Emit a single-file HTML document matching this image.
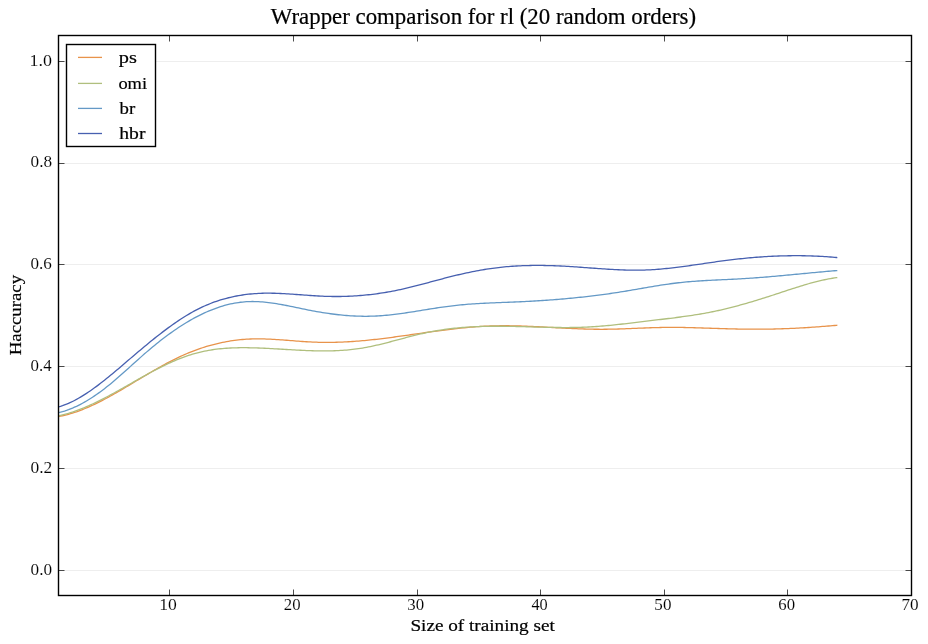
<!DOCTYPE html><html><head><meta charset="utf-8"><style>
html,body{margin:0;padding:0;background:#fff;width:928px;height:644px;overflow:hidden}
svg{display:block;will-change:transform}
text{font-family:"Liberation Serif",serif;fill:#000}
.k{stroke:#fff;stroke-width:0.1px}
.b{stroke:#000;stroke-width:0.2px}
</style></head><body>
<svg width="928" height="644" viewBox="0 0 928 644">
<rect x="0" y="0" width="928" height="644" fill="#fff"/>
<line x1="58.5" y1="570.5" x2="911.5" y2="570.5" stroke="#eeeeee" stroke-width="1"/>
<line x1="58.5" y1="468.5" x2="911.5" y2="468.5" stroke="#eeeeee" stroke-width="1"/>
<line x1="58.5" y1="366.5" x2="911.5" y2="366.5" stroke="#eeeeee" stroke-width="1"/>
<line x1="58.5" y1="264.5" x2="911.5" y2="264.5" stroke="#eeeeee" stroke-width="1"/>
<line x1="58.5" y1="163.5" x2="911.5" y2="163.5" stroke="#eeeeee" stroke-width="1"/>
<line x1="58.5" y1="61.5" x2="911.5" y2="61.5" stroke="#eeeeee" stroke-width="1"/>
<path d="M58.50,416.53 L60.50,416.16 L62.50,415.76 L64.50,415.31 L66.50,414.82 L68.50,414.29 L70.50,413.72 L72.50,413.11 L74.50,412.47 L76.50,411.80 L78.50,411.08 L80.50,410.34 L82.50,409.57 L84.50,408.76 L86.50,407.93 L88.50,407.06 L90.50,406.17 L92.50,405.25 L94.50,404.31 L96.50,403.35 L98.50,402.36 L100.50,401.35 L102.50,400.32 L104.50,399.27 L106.50,398.21 L108.50,397.12 L110.50,396.02 L112.50,394.91 L114.50,393.78 L116.50,392.64 L118.50,391.49 L120.50,390.33 L122.50,389.16 L124.50,387.98 L126.50,386.80 L128.50,385.61 L130.50,384.41 L132.50,383.21 L134.50,382.01 L136.50,380.81 L138.50,379.61 L140.50,378.41 L142.50,377.21 L144.50,376.02 L146.50,374.83 L148.50,373.65 L150.50,372.47 L152.50,371.30 L154.50,370.14 L156.50,368.99 L158.50,367.86 L160.50,366.73 L162.50,365.62 L164.50,364.52 L166.50,363.44 L168.50,362.38 L170.50,361.34 L172.50,360.31 L174.50,359.30 L176.50,358.32 L178.50,357.36 L180.50,356.42 L182.50,355.51 L184.50,354.62 L186.50,353.76 L188.50,352.92 L190.50,352.11 L192.50,351.32 L194.50,350.56 L196.50,349.82 L198.50,349.10 L200.50,348.41 L202.50,347.75 L204.50,347.11 L206.50,346.49 L208.50,345.90 L210.50,345.33 L212.50,344.78 L214.50,344.26 L216.50,343.77 L218.50,343.30 L220.50,342.85 L222.50,342.42 L224.50,342.02 L226.50,341.65 L228.50,341.30 L230.50,340.97 L232.50,340.67 L234.50,340.39 L236.50,340.13 L238.50,339.90 L240.50,339.69 L242.50,339.51 L244.50,339.34 L246.50,339.21 L248.50,339.09 L250.50,339.00 L252.50,338.94 L254.50,338.89 L256.50,338.87 L258.50,338.87 L260.50,338.88 L262.50,338.91 L264.50,338.96 L266.50,339.03 L268.50,339.10 L270.50,339.20 L272.50,339.30 L274.50,339.41 L276.50,339.54 L278.50,339.67 L280.50,339.81 L282.50,339.95 L284.50,340.10 L286.50,340.25 L288.50,340.41 L290.50,340.57 L292.50,340.72 L294.50,340.88 L296.50,341.04 L298.50,341.19 L300.50,341.33 L302.50,341.48 L304.50,341.61 L306.50,341.74 L308.50,341.86 L310.50,341.97 L312.50,342.06 L314.50,342.15 L316.50,342.22 L318.50,342.28 L320.50,342.33 L322.50,342.36 L324.50,342.38 L326.50,342.39 L328.50,342.39 L330.50,342.37 L332.50,342.35 L334.50,342.31 L336.50,342.26 L338.50,342.20 L340.50,342.13 L342.50,342.05 L344.50,341.96 L346.50,341.86 L348.50,341.75 L350.50,341.63 L352.50,341.50 L354.50,341.36 L356.50,341.21 L358.50,341.05 L360.50,340.89 L362.50,340.71 L364.50,340.53 L366.50,340.34 L368.50,340.14 L370.50,339.93 L372.50,339.72 L374.50,339.50 L376.50,339.28 L378.50,339.04 L380.50,338.81 L382.50,338.56 L384.50,338.31 L386.50,338.06 L388.50,337.80 L390.50,337.54 L392.50,337.28 L394.50,337.01 L396.50,336.73 L398.50,336.46 L400.50,336.18 L402.50,335.90 L404.50,335.62 L406.50,335.33 L408.50,335.05 L410.50,334.76 L412.50,334.47 L414.50,334.18 L416.50,333.90 L418.50,333.61 L420.50,333.32 L422.50,333.03 L424.50,332.75 L426.50,332.46 L428.50,332.18 L430.50,331.90 L432.50,331.62 L434.50,331.35 L436.50,331.07 L438.50,330.81 L440.50,330.54 L442.50,330.28 L444.50,330.02 L446.50,329.77 L448.50,329.52 L450.50,329.28 L452.50,329.04 L454.50,328.81 L456.50,328.58 L458.50,328.36 L460.50,328.15 L462.50,327.94 L464.50,327.74 L466.50,327.55 L468.50,327.37 L470.50,327.19 L472.50,327.03 L474.50,326.87 L476.50,326.72 L478.50,326.58 L480.50,326.46 L482.50,326.34 L484.50,326.23 L486.50,326.13 L488.50,326.05 L490.50,325.97 L492.50,325.91 L494.50,325.85 L496.50,325.81 L498.50,325.78 L500.50,325.76 L502.50,325.75 L504.50,325.75 L506.50,325.75 L508.50,325.77 L510.50,325.79 L512.50,325.82 L514.50,325.86 L516.50,325.91 L518.50,325.96 L520.50,326.02 L522.50,326.08 L524.50,326.15 L526.50,326.23 L528.50,326.31 L530.50,326.39 L532.50,326.48 L534.50,326.57 L536.50,326.67 L538.50,326.77 L540.50,326.87 L542.50,326.97 L544.50,327.08 L546.50,327.19 L548.50,327.29 L550.50,327.40 L552.50,327.51 L554.50,327.62 L556.50,327.73 L558.50,327.84 L560.50,327.94 L562.50,328.05 L564.50,328.15 L566.50,328.26 L568.50,328.35 L570.50,328.45 L572.50,328.54 L574.50,328.63 L576.50,328.72 L578.50,328.80 L580.50,328.87 L582.50,328.94 L584.50,329.01 L586.50,329.07 L588.50,329.12 L590.50,329.16 L592.50,329.20 L594.50,329.23 L596.50,329.26 L598.50,329.27 L600.50,329.28 L602.50,329.28 L604.50,329.27 L606.50,329.25 L608.50,329.22 L610.50,329.19 L612.50,329.14 L614.50,329.10 L616.50,329.04 L618.50,328.98 L620.50,328.92 L622.50,328.85 L624.50,328.78 L626.50,328.71 L628.50,328.63 L630.50,328.55 L632.50,328.47 L634.50,328.39 L636.50,328.30 L638.50,328.22 L640.50,328.14 L642.50,328.06 L644.50,327.98 L646.50,327.91 L648.50,327.83 L650.50,327.76 L652.50,327.70 L654.50,327.64 L656.50,327.58 L658.50,327.53 L660.50,327.48 L662.50,327.45 L664.50,327.41 L666.50,327.39 L668.50,327.38 L670.50,327.37 L672.50,327.37 L674.50,327.37 L676.50,327.39 L678.50,327.41 L680.50,327.43 L682.50,327.46 L684.50,327.50 L686.50,327.54 L688.50,327.58 L690.50,327.63 L692.50,327.68 L694.50,327.74 L696.50,327.80 L698.50,327.86 L700.50,327.92 L702.50,327.98 L704.50,328.05 L706.50,328.12 L708.50,328.19 L710.50,328.25 L712.50,328.32 L714.50,328.39 L716.50,328.46 L718.50,328.52 L720.50,328.59 L722.50,328.65 L724.50,328.71 L726.50,328.77 L728.50,328.82 L730.50,328.87 L732.50,328.92 L734.50,328.97 L736.50,329.01 L738.50,329.04 L740.50,329.08 L742.50,329.11 L744.50,329.13 L746.50,329.15 L748.50,329.17 L750.50,329.18 L752.50,329.19 L754.50,329.19 L756.50,329.19 L758.50,329.19 L760.50,329.18 L762.50,329.17 L764.50,329.15 L766.50,329.13 L768.50,329.10 L770.50,329.07 L772.50,329.03 L774.50,328.99 L776.50,328.94 L778.50,328.89 L780.50,328.83 L782.50,328.77 L784.50,328.70 L786.50,328.63 L788.50,328.55 L790.50,328.47 L792.50,328.38 L794.50,328.29 L796.50,328.19 L798.50,328.08 L800.50,327.97 L802.50,327.86 L804.50,327.74 L806.50,327.61 L808.50,327.48 L810.50,327.35 L812.50,327.21 L814.50,327.07 L816.50,326.93 L818.50,326.78 L820.50,326.63 L822.50,326.47 L824.50,326.32 L826.50,326.16 L828.50,326.00 L830.50,325.83 L832.50,325.67 L834.50,325.50 L836.50,325.33 L837.33,325.26" fill="none" stroke="#e8934b" stroke-width="1.30" stroke-linejoin="round"/>
<path d="M58.50,415.79 L60.50,415.37 L62.50,414.91 L64.50,414.41 L66.50,413.87 L68.50,413.30 L70.50,412.69 L72.50,412.05 L74.50,411.37 L76.50,410.67 L78.50,409.93 L80.50,409.16 L82.50,408.37 L84.50,407.54 L86.50,406.69 L88.50,405.82 L90.50,404.92 L92.50,404.00 L94.50,403.06 L96.50,402.09 L98.50,401.11 L100.50,400.11 L102.50,399.09 L104.50,398.06 L106.50,397.01 L108.50,395.95 L110.50,394.88 L112.50,393.79 L114.50,392.70 L116.50,391.59 L118.50,390.48 L120.50,389.36 L122.50,388.24 L124.50,387.11 L126.50,385.97 L128.50,384.84 L130.50,383.70 L132.50,382.57 L134.50,381.43 L136.50,380.30 L138.50,379.17 L140.50,378.05 L142.50,376.93 L144.50,375.82 L146.50,374.72 L148.50,373.63 L150.50,372.55 L152.50,371.47 L154.50,370.42 L156.50,369.37 L158.50,368.34 L160.50,367.33 L162.50,366.33 L164.50,365.36 L166.50,364.40 L168.50,363.46 L170.50,362.55 L172.50,361.65 L174.50,360.79 L176.50,359.94 L178.50,359.13 L180.50,358.34 L182.50,357.58 L184.50,356.85 L186.50,356.15 L188.50,355.47 L190.50,354.83 L192.50,354.21 L194.50,353.63 L196.50,353.08 L198.50,352.56 L200.50,352.06 L202.50,351.60 L204.50,351.17 L206.50,350.77 L208.50,350.40 L210.50,350.06 L212.50,349.74 L214.50,349.46 L216.50,349.19 L218.50,348.96 L220.50,348.74 L222.50,348.55 L224.50,348.38 L226.50,348.23 L228.50,348.11 L230.50,348.00 L232.50,347.91 L234.50,347.83 L236.50,347.78 L238.50,347.74 L240.50,347.71 L242.50,347.70 L244.50,347.70 L246.50,347.72 L248.50,347.74 L250.50,347.78 L252.50,347.82 L254.50,347.88 L256.50,347.94 L258.50,348.01 L260.50,348.09 L262.50,348.17 L264.50,348.26 L266.50,348.36 L268.50,348.46 L270.50,348.56 L272.50,348.67 L274.50,348.78 L276.50,348.90 L278.50,349.01 L280.50,349.13 L282.50,349.25 L284.50,349.37 L286.50,349.49 L288.50,349.61 L290.50,349.72 L292.50,349.84 L294.50,349.95 L296.50,350.06 L298.50,350.16 L300.50,350.26 L302.50,350.36 L304.50,350.45 L306.50,350.53 L308.50,350.61 L310.50,350.68 L312.50,350.74 L314.50,350.79 L316.50,350.84 L318.50,350.87 L320.50,350.90 L322.50,350.91 L324.50,350.91 L326.50,350.90 L328.50,350.88 L330.50,350.85 L332.50,350.80 L334.50,350.74 L336.50,350.66 L338.50,350.57 L340.50,350.46 L342.50,350.33 L344.50,350.19 L346.50,350.03 L348.50,349.85 L350.50,349.66 L352.50,349.44 L354.50,349.20 L356.50,348.95 L358.50,348.67 L360.50,348.37 L362.50,348.05 L364.50,347.70 L366.50,347.34 L368.50,346.95 L370.50,346.55 L372.50,346.13 L374.50,345.69 L376.50,345.23 L378.50,344.77 L380.50,344.29 L382.50,343.80 L384.50,343.30 L386.50,342.79 L388.50,342.27 L390.50,341.75 L392.50,341.22 L394.50,340.68 L396.50,340.15 L398.50,339.61 L400.50,339.08 L402.50,338.54 L404.50,338.01 L406.50,337.47 L408.50,336.95 L410.50,336.43 L412.50,335.92 L414.50,335.41 L416.50,334.92 L418.50,334.43 L420.50,333.96 L422.50,333.50 L424.50,333.06 L426.50,332.63 L428.50,332.22 L430.50,331.82 L432.50,331.45 L434.50,331.08 L436.50,330.74 L438.50,330.40 L440.50,330.09 L442.50,329.78 L444.50,329.50 L446.50,329.22 L448.50,328.96 L450.50,328.72 L452.50,328.48 L454.50,328.26 L456.50,328.06 L458.50,327.86 L460.50,327.68 L462.50,327.51 L464.50,327.36 L466.50,327.21 L468.50,327.08 L470.50,326.95 L472.50,326.84 L474.50,326.74 L476.50,326.64 L478.50,326.56 L480.50,326.49 L482.50,326.43 L484.50,326.37 L486.50,326.33 L488.50,326.29 L490.50,326.26 L492.50,326.24 L494.50,326.23 L496.50,326.23 L498.50,326.23 L500.50,326.24 L502.50,326.25 L504.50,326.27 L506.50,326.30 L508.50,326.33 L510.50,326.36 L512.50,326.40 L514.50,326.44 L516.50,326.49 L518.50,326.54 L520.50,326.59 L522.50,326.64 L524.50,326.69 L526.50,326.75 L528.50,326.81 L530.50,326.87 L532.50,326.92 L534.50,326.98 L536.50,327.04 L538.50,327.09 L540.50,327.15 L542.50,327.20 L544.50,327.25 L546.50,327.30 L548.50,327.34 L550.50,327.38 L552.50,327.42 L554.50,327.45 L556.50,327.48 L558.50,327.51 L560.50,327.52 L562.50,327.54 L564.50,327.54 L566.50,327.54 L568.50,327.53 L570.50,327.52 L572.50,327.49 L574.50,327.46 L576.50,327.42 L578.50,327.37 L580.50,327.32 L582.50,327.25 L584.50,327.17 L586.50,327.08 L588.50,326.98 L590.50,326.87 L592.50,326.75 L594.50,326.62 L596.50,326.48 L598.50,326.34 L600.50,326.18 L602.50,326.02 L604.50,325.84 L606.50,325.66 L608.50,325.48 L610.50,325.29 L612.50,325.09 L614.50,324.88 L616.50,324.67 L618.50,324.46 L620.50,324.24 L622.50,324.02 L624.50,323.79 L626.50,323.56 L628.50,323.33 L630.50,323.09 L632.50,322.85 L634.50,322.61 L636.50,322.37 L638.50,322.13 L640.50,321.88 L642.50,321.64 L644.50,321.40 L646.50,321.15 L648.50,320.91 L650.50,320.67 L652.50,320.43 L654.50,320.19 L656.50,319.96 L658.50,319.72 L660.50,319.48 L662.50,319.24 L664.50,319.00 L666.50,318.76 L668.50,318.52 L670.50,318.27 L672.50,318.02 L674.50,317.77 L676.50,317.51 L678.50,317.25 L680.50,316.99 L682.50,316.72 L684.50,316.44 L686.50,316.16 L688.50,315.87 L690.50,315.58 L692.50,315.28 L694.50,314.97 L696.50,314.65 L698.50,314.32 L700.50,313.99 L702.50,313.64 L704.50,313.29 L706.50,312.92 L708.50,312.54 L710.50,312.16 L712.50,311.76 L714.50,311.35 L716.50,310.92 L718.50,310.49 L720.50,310.04 L722.50,309.58 L724.50,309.11 L726.50,308.63 L728.50,308.14 L730.50,307.63 L732.50,307.12 L734.50,306.60 L736.50,306.07 L738.50,305.53 L740.50,304.98 L742.50,304.42 L744.50,303.86 L746.50,303.28 L748.50,302.70 L750.50,302.11 L752.50,301.52 L754.50,300.92 L756.50,300.31 L758.50,299.70 L760.50,299.08 L762.50,298.45 L764.50,297.82 L766.50,297.18 L768.50,296.54 L770.50,295.90 L772.50,295.25 L774.50,294.60 L776.50,293.95 L778.50,293.29 L780.50,292.63 L782.50,291.97 L784.50,291.30 L786.50,290.64 L788.50,289.98 L790.50,289.33 L792.50,288.68 L794.50,288.03 L796.50,287.39 L798.50,286.76 L800.50,286.13 L802.50,285.52 L804.50,284.92 L806.50,284.33 L808.50,283.75 L810.50,283.19 L812.50,282.64 L814.50,282.11 L816.50,281.60 L818.50,281.10 L820.50,280.63 L822.50,280.17 L824.50,279.74 L826.50,279.34 L828.50,278.95 L830.50,278.59 L832.50,278.26 L834.50,277.96 L836.50,277.69 L837.33,277.58" fill="none" stroke="#b0bf7e" stroke-width="1.30" stroke-linejoin="round"/>
<path d="M58.50,412.60 L60.50,412.13 L62.50,411.60 L64.50,411.01 L66.50,410.36 L68.50,409.66 L70.50,408.90 L72.50,408.09 L74.50,407.22 L76.50,406.31 L78.50,405.34 L80.50,404.32 L82.50,403.25 L84.50,402.14 L86.50,400.98 L88.50,399.77 L90.50,398.53 L92.50,397.23 L94.50,395.90 L96.50,394.53 L98.50,393.12 L100.50,391.67 L102.50,390.18 L104.50,388.66 L106.50,387.10 L108.50,385.51 L110.50,383.89 L112.50,382.23 L114.50,380.55 L116.50,378.84 L118.50,377.11 L120.50,375.35 L122.50,373.58 L124.50,371.80 L126.50,370.01 L128.50,368.20 L130.50,366.39 L132.50,364.59 L134.50,362.78 L136.50,360.97 L138.50,359.18 L140.50,357.39 L142.50,355.62 L144.50,353.86 L146.50,352.12 L148.50,350.41 L150.50,348.71 L152.50,347.04 L154.50,345.40 L156.50,343.77 L158.50,342.17 L160.50,340.60 L162.50,339.05 L164.50,337.52 L166.50,336.02 L168.50,334.55 L170.50,333.10 L172.50,331.68 L174.50,330.29 L176.50,328.92 L178.50,327.58 L180.50,326.27 L182.50,324.99 L184.50,323.74 L186.50,322.52 L188.50,321.33 L190.50,320.17 L192.50,319.04 L194.50,317.94 L196.50,316.87 L198.50,315.84 L200.50,314.84 L202.50,313.87 L204.50,312.93 L206.50,312.03 L208.50,311.16 L210.50,310.33 L212.50,309.53 L214.50,308.77 L216.50,308.04 L218.50,307.35 L220.50,306.69 L222.50,306.07 L224.50,305.49 L226.50,304.95 L228.50,304.45 L230.50,303.98 L232.50,303.56 L234.50,303.17 L236.50,302.82 L238.50,302.52 L240.50,302.25 L242.50,302.03 L244.50,301.84 L246.50,301.70 L248.50,301.60 L250.50,301.54 L252.50,301.52 L254.50,301.54 L256.50,301.59 L258.50,301.68 L260.50,301.79 L262.50,301.94 L264.50,302.12 L266.50,302.32 L268.50,302.55 L270.50,302.80 L272.50,303.08 L274.50,303.38 L276.50,303.69 L278.50,304.02 L280.50,304.37 L282.50,304.74 L284.50,305.11 L286.50,305.50 L288.50,305.89 L290.50,306.30 L292.50,306.71 L294.50,307.12 L296.50,307.54 L298.50,307.96 L300.50,308.38 L302.50,308.79 L304.50,309.21 L306.50,309.61 L308.50,310.02 L310.50,310.41 L312.50,310.79 L314.50,311.16 L316.50,311.52 L318.50,311.88 L320.50,312.22 L322.50,312.54 L324.50,312.86 L326.50,313.17 L328.50,313.46 L330.50,313.74 L332.50,314.01 L334.50,314.26 L336.50,314.50 L338.50,314.73 L340.50,314.94 L342.50,315.14 L344.50,315.32 L346.50,315.49 L348.50,315.65 L350.50,315.78 L352.50,315.90 L354.50,316.01 L356.50,316.10 L358.50,316.17 L360.50,316.22 L362.50,316.26 L364.50,316.28 L366.50,316.28 L368.50,316.26 L370.50,316.22 L372.50,316.16 L374.50,316.09 L376.50,315.99 L378.50,315.88 L380.50,315.74 L382.50,315.59 L384.50,315.43 L386.50,315.25 L388.50,315.05 L390.50,314.84 L392.50,314.62 L394.50,314.38 L396.50,314.13 L398.50,313.88 L400.50,313.61 L402.50,313.33 L404.50,313.05 L406.50,312.75 L408.50,312.45 L410.50,312.15 L412.50,311.84 L414.50,311.52 L416.50,311.20 L418.50,310.88 L420.50,310.56 L422.50,310.23 L424.50,309.91 L426.50,309.58 L428.50,309.26 L430.50,308.94 L432.50,308.62 L434.50,308.31 L436.50,308.00 L438.50,307.69 L440.50,307.40 L442.50,307.10 L444.50,306.82 L446.50,306.54 L448.50,306.28 L450.50,306.02 L452.50,305.78 L454.50,305.54 L456.50,305.32 L458.50,305.11 L460.50,304.91 L462.50,304.73 L464.50,304.55 L466.50,304.38 L468.50,304.22 L470.50,304.07 L472.50,303.93 L474.50,303.80 L476.50,303.67 L478.50,303.55 L480.50,303.44 L482.50,303.33 L484.50,303.23 L486.50,303.13 L488.50,303.04 L490.50,302.95 L492.50,302.86 L494.50,302.78 L496.50,302.70 L498.50,302.62 L500.50,302.54 L502.50,302.47 L504.50,302.39 L506.50,302.31 L508.50,302.24 L510.50,302.16 L512.50,302.08 L514.50,302.00 L516.50,301.92 L518.50,301.83 L520.50,301.74 L522.50,301.65 L524.50,301.55 L526.50,301.45 L528.50,301.35 L530.50,301.24 L532.50,301.13 L534.50,301.01 L536.50,300.89 L538.50,300.77 L540.50,300.65 L542.50,300.52 L544.50,300.38 L546.50,300.25 L548.50,300.10 L550.50,299.96 L552.50,299.81 L554.50,299.65 L556.50,299.50 L558.50,299.33 L560.50,299.17 L562.50,299.00 L564.50,298.82 L566.50,298.64 L568.50,298.46 L570.50,298.27 L572.50,298.08 L574.50,297.88 L576.50,297.68 L578.50,297.47 L580.50,297.26 L582.50,297.04 L584.50,296.82 L586.50,296.60 L588.50,296.37 L590.50,296.13 L592.50,295.89 L594.50,295.64 L596.50,295.39 L598.50,295.14 L600.50,294.88 L602.50,294.61 L604.50,294.34 L606.50,294.06 L608.50,293.78 L610.50,293.49 L612.50,293.20 L614.50,292.90 L616.50,292.60 L618.50,292.29 L620.50,291.97 L622.50,291.65 L624.50,291.32 L626.50,290.99 L628.50,290.66 L630.50,290.32 L632.50,289.98 L634.50,289.63 L636.50,289.28 L638.50,288.94 L640.50,288.59 L642.50,288.24 L644.50,287.90 L646.50,287.55 L648.50,287.21 L650.50,286.87 L652.50,286.53 L654.50,286.20 L656.50,285.87 L658.50,285.55 L660.50,285.23 L662.50,284.92 L664.50,284.62 L666.50,284.33 L668.50,284.04 L670.50,283.76 L672.50,283.50 L674.50,283.24 L676.50,282.99 L678.50,282.76 L680.50,282.54 L682.50,282.33 L684.50,282.13 L686.50,281.94 L688.50,281.76 L690.50,281.59 L692.50,281.43 L694.50,281.28 L696.50,281.14 L698.50,281.00 L700.50,280.87 L702.50,280.74 L704.50,280.63 L706.50,280.51 L708.50,280.40 L710.50,280.30 L712.50,280.20 L714.50,280.10 L716.50,280.00 L718.50,279.91 L720.50,279.81 L722.50,279.72 L724.50,279.63 L726.50,279.53 L728.50,279.44 L730.50,279.34 L732.50,279.25 L734.50,279.15 L736.50,279.04 L738.50,278.94 L740.50,278.83 L742.50,278.71 L744.50,278.59 L746.50,278.46 L748.50,278.33 L750.50,278.20 L752.50,278.06 L754.50,277.92 L756.50,277.77 L758.50,277.62 L760.50,277.46 L762.50,277.30 L764.50,277.14 L766.50,276.98 L768.50,276.81 L770.50,276.64 L772.50,276.46 L774.50,276.29 L776.50,276.11 L778.50,275.93 L780.50,275.75 L782.50,275.56 L784.50,275.38 L786.50,275.19 L788.50,275.01 L790.50,274.82 L792.50,274.63 L794.50,274.44 L796.50,274.24 L798.50,274.05 L800.50,273.86 L802.50,273.67 L804.50,273.48 L806.50,273.29 L808.50,273.10 L810.50,272.91 L812.50,272.72 L814.50,272.53 L816.50,272.35 L818.50,272.16 L820.50,271.98 L822.50,271.80 L824.50,271.62 L826.50,271.44 L828.50,271.27 L830.50,271.09 L832.50,270.92 L834.50,270.76 L836.50,270.59 L837.33,270.53" fill="none" stroke="#6499c6" stroke-width="1.30" stroke-linejoin="round"/>
<path d="M58.50,406.94 L60.50,406.35 L62.50,405.69 L64.50,404.96 L66.50,404.18 L68.50,403.33 L70.50,402.43 L72.50,401.47 L74.50,400.46 L76.50,399.40 L78.50,398.28 L80.50,397.12 L82.50,395.92 L84.50,394.67 L86.50,393.38 L88.50,392.04 L90.50,390.68 L92.50,389.27 L94.50,387.83 L96.50,386.36 L98.50,384.86 L100.50,383.33 L102.50,381.78 L104.50,380.20 L106.50,378.60 L108.50,376.98 L110.50,375.34 L112.50,373.68 L114.50,372.01 L116.50,370.33 L118.50,368.64 L120.50,366.94 L122.50,365.23 L124.50,363.52 L126.50,361.81 L128.50,360.09 L130.50,358.38 L132.50,356.67 L134.50,354.97 L136.50,353.27 L138.50,351.58 L140.50,349.89 L142.50,348.21 L144.50,346.54 L146.50,344.89 L148.50,343.24 L150.50,341.61 L152.50,339.99 L154.50,338.38 L156.50,336.79 L158.50,335.22 L160.50,333.67 L162.50,332.13 L164.50,330.61 L166.50,329.12 L168.50,327.64 L170.50,326.19 L172.50,324.77 L174.50,323.36 L176.50,321.99 L178.50,320.64 L180.50,319.32 L182.50,318.02 L184.50,316.76 L186.50,315.53 L188.50,314.33 L190.50,313.16 L192.50,312.03 L194.50,310.93 L196.50,309.87 L198.50,308.85 L200.50,307.86 L202.50,306.91 L204.50,306.00 L206.50,305.13 L208.50,304.29 L210.50,303.48 L212.50,302.71 L214.50,301.98 L216.50,301.28 L218.50,300.61 L220.50,299.97 L222.50,299.37 L224.50,298.80 L226.50,298.26 L228.50,297.75 L230.50,297.27 L232.50,296.82 L234.50,296.40 L236.50,296.00 L238.50,295.64 L240.50,295.30 L242.50,294.99 L244.50,294.71 L246.50,294.45 L248.50,294.22 L250.50,294.01 L252.50,293.83 L254.50,293.67 L256.50,293.54 L258.50,293.43 L260.50,293.34 L262.50,293.27 L264.50,293.22 L266.50,293.20 L268.50,293.19 L270.50,293.20 L272.50,293.23 L274.50,293.27 L276.50,293.33 L278.50,293.40 L280.50,293.48 L282.50,293.58 L284.50,293.68 L286.50,293.80 L288.50,293.92 L290.50,294.05 L292.50,294.19 L294.50,294.33 L296.50,294.48 L298.50,294.62 L300.50,294.77 L302.50,294.92 L304.50,295.07 L306.50,295.22 L308.50,295.36 L310.50,295.51 L312.50,295.64 L314.50,295.77 L316.50,295.89 L318.50,296.01 L320.50,296.11 L322.50,296.21 L324.50,296.29 L326.50,296.36 L328.50,296.42 L330.50,296.47 L332.50,296.50 L334.50,296.51 L336.50,296.52 L338.50,296.51 L340.50,296.49 L342.50,296.45 L344.50,296.40 L346.50,296.34 L348.50,296.26 L350.50,296.17 L352.50,296.07 L354.50,295.95 L356.50,295.82 L358.50,295.68 L360.50,295.52 L362.50,295.35 L364.50,295.17 L366.50,294.97 L368.50,294.76 L370.50,294.53 L372.50,294.29 L374.50,294.04 L376.50,293.78 L378.50,293.50 L380.50,293.21 L382.50,292.90 L384.50,292.58 L386.50,292.25 L388.50,291.90 L390.50,291.54 L392.50,291.17 L394.50,290.78 L396.50,290.38 L398.50,289.97 L400.50,289.54 L402.50,289.10 L404.50,288.64 L406.50,288.18 L408.50,287.70 L410.50,287.21 L412.50,286.72 L414.50,286.22 L416.50,285.70 L418.50,285.19 L420.50,284.66 L422.50,284.13 L424.50,283.60 L426.50,283.07 L428.50,282.53 L430.50,281.99 L432.50,281.45 L434.50,280.91 L436.50,280.37 L438.50,279.83 L440.50,279.30 L442.50,278.77 L444.50,278.24 L446.50,277.72 L448.50,277.21 L450.50,276.70 L452.50,276.20 L454.50,275.71 L456.50,275.23 L458.50,274.75 L460.50,274.29 L462.50,273.83 L464.50,273.39 L466.50,272.95 L468.50,272.52 L470.50,272.11 L472.50,271.70 L474.50,271.31 L476.50,270.92 L478.50,270.55 L480.50,270.19 L482.50,269.84 L484.50,269.51 L486.50,269.19 L488.50,268.88 L490.50,268.58 L492.50,268.30 L494.50,268.03 L496.50,267.78 L498.50,267.54 L500.50,267.32 L502.50,267.10 L504.50,266.91 L506.50,266.72 L508.50,266.55 L510.50,266.40 L512.50,266.25 L514.50,266.12 L516.50,266.00 L518.50,265.89 L520.50,265.80 L522.50,265.71 L524.50,265.64 L526.50,265.58 L528.50,265.53 L530.50,265.49 L532.50,265.46 L534.50,265.44 L536.50,265.43 L538.50,265.43 L540.50,265.44 L542.50,265.46 L544.50,265.49 L546.50,265.53 L548.50,265.57 L550.50,265.63 L552.50,265.69 L554.50,265.76 L556.50,265.84 L558.50,265.92 L560.50,266.01 L562.50,266.11 L564.50,266.22 L566.50,266.33 L568.50,266.44 L570.50,266.57 L572.50,266.70 L574.50,266.83 L576.50,266.96 L578.50,267.10 L580.50,267.25 L582.50,267.39 L584.50,267.54 L586.50,267.68 L588.50,267.83 L590.50,267.98 L592.50,268.13 L594.50,268.27 L596.50,268.42 L598.50,268.56 L600.50,268.70 L602.50,268.84 L604.50,268.97 L606.50,269.10 L608.50,269.23 L610.50,269.35 L612.50,269.46 L614.50,269.57 L616.50,269.67 L618.50,269.76 L620.50,269.84 L622.50,269.92 L624.50,269.99 L626.50,270.04 L628.50,270.09 L630.50,270.13 L632.50,270.15 L634.50,270.16 L636.50,270.17 L638.50,270.15 L640.50,270.13 L642.50,270.09 L644.50,270.03 L646.50,269.96 L648.50,269.88 L650.50,269.78 L652.50,269.66 L654.50,269.54 L656.50,269.40 L658.50,269.24 L660.50,269.08 L662.50,268.90 L664.50,268.71 L666.50,268.51 L668.50,268.30 L670.50,268.09 L672.50,267.86 L674.50,267.62 L676.50,267.38 L678.50,267.13 L680.50,266.87 L682.50,266.61 L684.50,266.34 L686.50,266.07 L688.50,265.79 L690.50,265.51 L692.50,265.22 L694.50,264.94 L696.50,264.65 L698.50,264.35 L700.50,264.06 L702.50,263.77 L704.50,263.47 L706.50,263.18 L708.50,262.89 L710.50,262.59 L712.50,262.30 L714.50,262.02 L716.50,261.73 L718.50,261.45 L720.50,261.18 L722.50,260.91 L724.50,260.64 L726.50,260.38 L728.50,260.13 L730.50,259.88 L732.50,259.64 L734.50,259.41 L736.50,259.18 L738.50,258.96 L740.50,258.74 L742.50,258.54 L744.50,258.33 L746.50,258.14 L748.50,257.95 L750.50,257.77 L752.50,257.60 L754.50,257.43 L756.50,257.27 L758.50,257.12 L760.50,256.98 L762.50,256.84 L764.50,256.71 L766.50,256.59 L768.50,256.47 L770.50,256.37 L772.50,256.27 L774.50,256.17 L776.50,256.09 L778.50,256.01 L780.50,255.95 L782.50,255.89 L784.50,255.83 L786.50,255.79 L788.50,255.75 L790.50,255.73 L792.50,255.71 L794.50,255.69 L796.50,255.69 L798.50,255.70 L800.50,255.71 L802.50,255.73 L804.50,255.77 L806.50,255.81 L808.50,255.85 L810.50,255.91 L812.50,255.98 L814.50,256.05 L816.50,256.14 L818.50,256.23 L820.50,256.34 L822.50,256.45 L824.50,256.57 L826.50,256.70 L828.50,256.84 L830.50,256.99 L832.50,257.15 L834.50,257.32 L836.50,257.50 L837.33,257.57" fill="none" stroke="#4760b0" stroke-width="1.30" stroke-linejoin="round"/>
<line x1="169.5" y1="595.5" x2="169.5" y2="589.5" stroke="#000" stroke-width="0.7"/>
<line x1="169.5" y1="35.5" x2="169.5" y2="41.5" stroke="#000" stroke-width="0.7"/>
<line x1="293.5" y1="595.5" x2="293.5" y2="589.5" stroke="#000" stroke-width="0.7"/>
<line x1="293.5" y1="35.5" x2="293.5" y2="41.5" stroke="#000" stroke-width="0.7"/>
<line x1="417.5" y1="595.5" x2="417.5" y2="589.5" stroke="#000" stroke-width="0.7"/>
<line x1="417.5" y1="35.5" x2="417.5" y2="41.5" stroke="#000" stroke-width="0.7"/>
<line x1="540.5" y1="595.5" x2="540.5" y2="589.5" stroke="#000" stroke-width="0.7"/>
<line x1="540.5" y1="35.5" x2="540.5" y2="41.5" stroke="#000" stroke-width="0.7"/>
<line x1="664.5" y1="595.5" x2="664.5" y2="589.5" stroke="#000" stroke-width="0.7"/>
<line x1="664.5" y1="35.5" x2="664.5" y2="41.5" stroke="#000" stroke-width="0.7"/>
<line x1="787.5" y1="595.5" x2="787.5" y2="589.5" stroke="#000" stroke-width="0.7"/>
<line x1="787.5" y1="35.5" x2="787.5" y2="41.5" stroke="#000" stroke-width="0.7"/>
<line x1="911.5" y1="595.5" x2="911.5" y2="589.5" stroke="#000" stroke-width="0.7"/>
<line x1="911.5" y1="35.5" x2="911.5" y2="41.5" stroke="#000" stroke-width="0.7"/>
<line x1="58.5" y1="570.5" x2="64.5" y2="570.5" stroke="#000" stroke-width="0.7"/>
<line x1="911.5" y1="570.5" x2="905.5" y2="570.5" stroke="#000" stroke-width="0.7"/>
<line x1="58.5" y1="468.5" x2="64.5" y2="468.5" stroke="#000" stroke-width="0.7"/>
<line x1="911.5" y1="468.5" x2="905.5" y2="468.5" stroke="#000" stroke-width="0.7"/>
<line x1="58.5" y1="366.5" x2="64.5" y2="366.5" stroke="#000" stroke-width="0.7"/>
<line x1="911.5" y1="366.5" x2="905.5" y2="366.5" stroke="#000" stroke-width="0.7"/>
<line x1="58.5" y1="264.5" x2="64.5" y2="264.5" stroke="#000" stroke-width="0.7"/>
<line x1="911.5" y1="264.5" x2="905.5" y2="264.5" stroke="#000" stroke-width="0.7"/>
<line x1="58.5" y1="163.5" x2="64.5" y2="163.5" stroke="#000" stroke-width="0.7"/>
<line x1="911.5" y1="163.5" x2="905.5" y2="163.5" stroke="#000" stroke-width="0.7"/>
<line x1="58.5" y1="61.5" x2="64.5" y2="61.5" stroke="#000" stroke-width="0.7"/>
<line x1="911.5" y1="61.5" x2="905.5" y2="61.5" stroke="#000" stroke-width="0.7"/>
<rect x="58.5" y="35.5" width="853" height="560" fill="none" stroke="#000" stroke-width="1.4"/>
<rect x="66.5" y="44.5" width="89" height="102" fill="#fff" stroke="#000" stroke-width="1.4"/>
<line x1="78" y1="57.4" x2="102" y2="57.4" stroke="#e8934b" stroke-width="1.30"/>
<text x="118.72" y="63.00" font-size="17.40" textLength="18.11" lengthAdjust="spacingAndGlyphs" class="b">ps</text>
<line x1="78" y1="83.4" x2="102" y2="83.4" stroke="#b0bf7e" stroke-width="1.30"/>
<text x="118.40" y="88.90" font-size="17.40" textLength="28.65" lengthAdjust="spacingAndGlyphs" class="b">omi</text>
<line x1="78" y1="108.4" x2="102" y2="108.4" stroke="#6499c6" stroke-width="1.30"/>
<text x="119.50" y="114.00" font-size="17.40" textLength="15.67" lengthAdjust="spacingAndGlyphs" class="b">br</text>
<line x1="78" y1="133.5" x2="102" y2="133.5" stroke="#4760b0" stroke-width="1.30"/>
<text x="119.31" y="138.80" font-size="17.40" textLength="26.16" lengthAdjust="spacingAndGlyphs" class="b">hbr</text>
<text x="159.31" y="610.20" font-size="17.70" textLength="17.62" lengthAdjust="spacingAndGlyphs" class="k">10</text>
<text x="283.75" y="610.20" font-size="17.70" textLength="16.78" lengthAdjust="spacingAndGlyphs" class="k">20</text>
<text x="407.30" y="610.20" font-size="17.70" textLength="16.85" lengthAdjust="spacingAndGlyphs" class="k">30</text>
<text x="531.41" y="610.20" font-size="17.70" textLength="16.34" lengthAdjust="spacingAndGlyphs" class="k">40</text>
<text x="654.36" y="610.20" font-size="17.70" textLength="17.04" lengthAdjust="spacingAndGlyphs" class="k">50</text>
<text x="778.26" y="610.20" font-size="17.70" textLength="16.76" lengthAdjust="spacingAndGlyphs" class="k">60</text>
<text x="901.47" y="610.20" font-size="17.70" textLength="17.19" lengthAdjust="spacingAndGlyphs" class="k">70</text>
<text x="30.54" y="574.65" font-size="17.70" textLength="21.51" lengthAdjust="spacingAndGlyphs" class="k">0.0</text>
<text x="30.53" y="472.83" font-size="17.70" textLength="21.83" lengthAdjust="spacingAndGlyphs" class="k">0.2</text>
<text x="30.56" y="371.01" font-size="17.70" textLength="21.11" lengthAdjust="spacingAndGlyphs" class="k">0.4</text>
<text x="30.55" y="269.19" font-size="17.70" textLength="21.36" lengthAdjust="spacingAndGlyphs" class="k">0.6</text>
<text x="30.54" y="167.37" font-size="17.70" textLength="21.51" lengthAdjust="spacingAndGlyphs" class="k">0.8</text>
<text x="29.62" y="65.55" font-size="17.70" textLength="22.46" lengthAdjust="spacingAndGlyphs" class="k">1.0</text>
<text x="270.88" y="23.75" font-size="22.40" textLength="425.12" lengthAdjust="spacingAndGlyphs" class="b">Wrapper comparison for rl (20 random orders)</text>
<text x="410.42" y="630.70" font-size="17.40" textLength="144.40" lengthAdjust="spacingAndGlyphs" class="b">Size of training set</text>
<text class="b" transform="translate(20.85,0) rotate(-90)" x="-355.24" y="0" font-size="17.40" textLength="80.31" lengthAdjust="spacingAndGlyphs">Haccuracy</text>
</svg></body></html>
